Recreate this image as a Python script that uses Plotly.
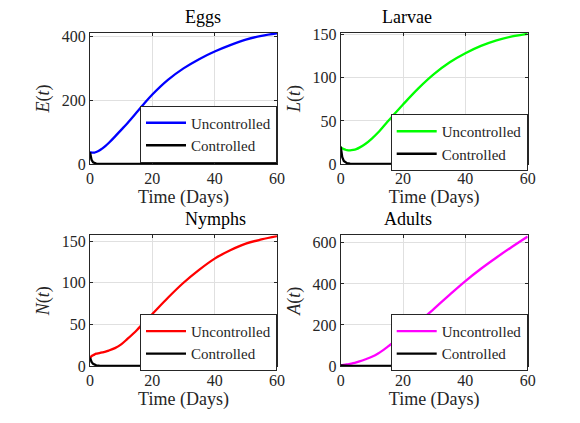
import plotly.graph_objects as go

# ---------------- data ----------------
t = [0, 0.25, 0.5, 1, 1.5, 2, 3, 4, 5, 6, 8, 10, 12, 15, 17, 20, 25, 30, 35, 40, 45, 50, 55, 60]

eggs_unc = [37, 36.5, 36, 35.5, 36, 37.5, 42, 49, 57, 66, 86, 107, 128, 162, 185, 218, 264, 300, 329, 353, 373, 390, 402, 410]
eggs_con = [37, 22, 13, 5, 2.5, 1.3, 0.6, 0.3, 0.2, 0.1, 0.05, 0.03, 0.02, 0.01, 0, 0, 0, 0, 0, 0, 0, 0, 0, 0]

larv_unc = [19.5, 18.8, 18.2, 17.3, 16.6, 16.1, 15.8, 16.3, 17.3, 19, 23.5, 29.5, 36.5, 49, 57, 69, 88, 104.5, 118, 128.5, 137, 143.5, 148, 151]
larv_con = [20, 13, 8, 3.5, 1.8, 1.0, 0.4, 0.2, 0.1, 0.05, 0.03, 0.02, 0.01, 0, 0, 0, 0, 0, 0, 0, 0, 0, 0, 0]

nymp_unc = [9.5, 10.8, 11.8, 13, 14, 14.8, 15.6, 16.5, 17.3, 18.5, 21.5, 26, 32.5, 43, 51, 62.5, 82, 100, 115.5, 129, 139, 147, 152, 156]
nymp_con = [10, 7, 5, 2.5, 1.4, 0.8, 0.3, 0.15, 0.08, 0.04, 0.02, 0.01, 0, 0, 0, 0, 0, 0, 0, 0, 0, 0, 0, 0]

adul_unc = [4, 4.3, 4.7, 5.5, 6.5, 7.8, 10.5, 14, 18, 22.5, 33, 45, 61, 93, 116, 152, 212, 280, 348, 414, 474, 529, 581, 631]
adul_con = [3, 2.6, 2.3, 1.8, 1.4, 1.1, 0.7, 0.5, 0.3, 0.2, 0.1, 0.05, 0.03, 0.01, 0, 0, 0, 0, 0, 0, 0, 0, 0, 0]

titles = ["Eggs", "Larvae", "Nymphs", "Adults"]
ylabels = ["<i>E</i>(<i>t</i>)", "<i>L</i>(<i>t</i>)", "<i>N</i>(<i>t</i>)", "<i>A</i>(<i>t</i>)"]
colors = ["#0000ff", "#00ff00", "#ff0000", "#ff00ff"]
yranges = [[0, 411], [0, 152], [0, 157], [0, 637]]
yticks = [[0, 200, 400], [0, 50, 100, 150], [0, 50, 100, 150], [0, 200, 400, 600]]
xticks = [0, 20, 40, 60]

series_unc = [eggs_unc, larv_unc, nymp_unc, adul_unc]
series_con = [eggs_con, larv_con, nymp_con, adul_con]

# ---------------- layout geometry (page pixels, page has 8px body margin) ----------------
W, H = 580, 423
OFF = 8
def fx(px):
    return (px - OFF) / W
def fy(py):
    return 1 - (py - OFF) / H

xdoms = [[fx(90), fx(277)], [fx(340.7), fx(527.7)]]
ydoms = [[fy(164), fy(33)], [fy(366), fy(235.3)]]
legend_centers = [134, 142.5, 342.3, 342.3]

FONT = "Liberation Serif"
INK = "#262626"

fig = go.Figure()
layout = dict(
    width=W, height=H,
    margin=dict(l=0, r=0, t=0, b=0, autoexpand=False),
    paper_bgcolor="white", plot_bgcolor="white",
    font=dict(family=FONT, size=16, color=INK),
    annotations=[],
)

for i in range(4):
    row, col = divmod(i, 2)
    n = i + 1
    xa = "x" if n == 1 else f"x{n}"
    ya = "y" if n == 1 else f"y{n}"
    lg = "legend" if n == 1 else f"legend{n}"
    fig.add_trace(go.Scatter(x=t, y=series_unc[i], mode="lines", name="Uncontrolled",
                             line=dict(color=colors[i], width=2.3, shape="spline", smoothing=1.0),
                             xaxis=xa, yaxis=ya, legend=lg))
    fig.add_trace(go.Scatter(x=t, y=series_con[i], mode="lines", name="Controlled",
                             line=dict(color="black", width=2.3),
                             xaxis=xa, yaxis=ya, legend=lg))
    axis_common = dict(showline=True, linecolor=INK, linewidth=1, mirror="ticks",
                       ticks="inside", ticklen=3, tickcolor=INK, automargin=False,
                       showgrid=True, gridcolor="#e0e0e0", gridwidth=1,
                       zeroline=False, tickfont=dict(family=FONT, size=16, color=INK))
    layout["xaxis" if n == 1 else f"xaxis{n}"] = dict(
        axis_common, domain=xdoms[col], range=[0, 60], tickvals=xticks,
        anchor=ya, title=dict(text="Time (Days)", font=dict(family=FONT, size=18, color=INK), standoff=2))
    layout["yaxis" if n == 1 else f"yaxis{n}"] = dict(
        axis_common, domain=ydoms[row], range=yranges[i], tickvals=yticks[i],
        anchor=xa, title=dict(text=ylabels[i], font=dict(family=FONT, size=18, color=INK), standoff=7))
    layout[lg] = dict(
        x=xdoms[col][1], xanchor="right",
        y=fy(legend_centers[i]), yanchor="middle",
        bgcolor="white", bordercolor=INK, borderwidth=1,
        font=dict(family=FONT, size=15, color=INK),
        tracegroupgap=0, itemwidth=40,
    )
    layout["annotations"].append(dict(
        text=titles[i], showarrow=False, xref="paper", yref="paper",
        x=(xdoms[col][0] + xdoms[col][1]) / 2, y=ydoms[row][1], yanchor="bottom",
        yshift=4, font=dict(family=FONT, size=18, color="black")))

fig.update_layout(**layout)
fig.write_html("out.html")
